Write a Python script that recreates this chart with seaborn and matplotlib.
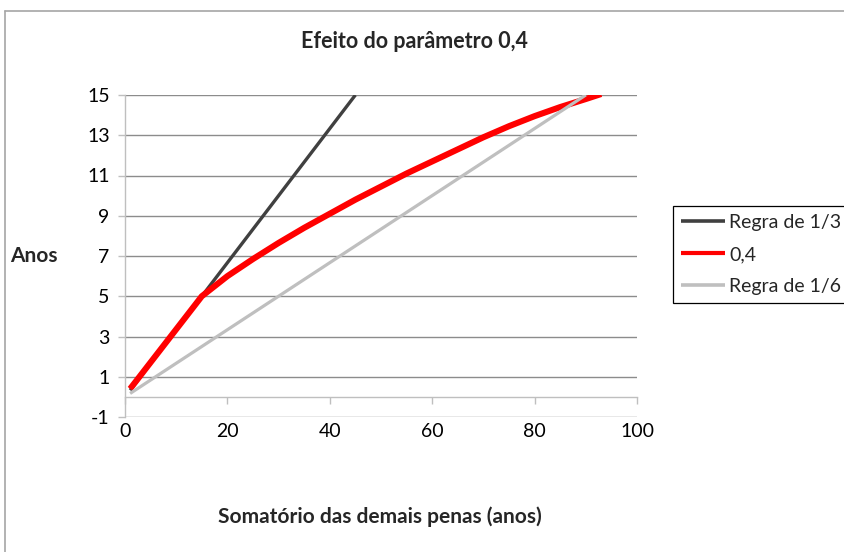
import matplotlib
matplotlib.use("Agg")
import matplotlib.pyplot as plt
import seaborn as sns
import pandas as pd
from matplotlib.lines import Line2D

# Series: years of the penalty versus the sum of the other penalties
x_terco = [1, 15, 30, 45]
y_terco = [0.33, 5.0, 10.0, 15.0]

x_param = [1, 15, 20, 25, 30, 35, 40, 45, 50, 55, 60, 65, 70, 75, 80, 85, 90, 93]
y_param = [0.4, 5.0, 6.0, 6.85, 7.65, 8.4, 9.1, 9.8, 10.45, 11.1, 11.7,
           12.3, 12.9, 13.45, 13.95, 14.4, 14.8, 15.05]

x_sexto = [1, 90]
y_sexto = [0.17, 15.0]

series_names = ["Regra de 1/3", "0,4", "Regra de 1/6"]
series_colors = ["#404040", "#FF0000", "#BFBFBF"]
series_widths = [2.4, 4.4, 2.3]

x_ticks = [0, 20, 40, 60, 80, 100]
y_ticks = [-1, 1, 3, 5, 7, 9, 11, 13, 15]

title = "Efeito do parâmetro 0,4"
x_label = "Somatório das demais penas (anos)"
y_label = "Anos"

sns.set_theme(style="white")
plt.rcParams["font.family"] = ["Lato", "DejaVu Sans"]

W, H = 845, 552
fig = plt.figure(figsize=(W / 100, H / 100), dpi=100)
fig.patch.set_facecolor("white")

# Chart area border (top and left edges)
border_kw = dict(transform=fig.transFigure, color="#A6A6A6", lw=1.2)
fig.add_artist(Line2D([5 / W, 5 / W], [0, 1 - 11 / H], **border_kw))
fig.add_artist(Line2D([5 / W, 1], [1 - 11 / H, 1 - 11 / H], **border_kw))

ax = fig.add_axes([125 / W, 1 - 417 / H, 512 / W, 322 / H])
ax.set_facecolor("white")

frames = []
for name, xs, ys in zip(series_names, [x_terco, x_param, x_sexto],
                        [y_terco, y_param, y_sexto]):
    frames.append(pd.DataFrame({"x": xs, "y": ys, "serie": name}))
df = pd.concat(frames, ignore_index=True)

for name, color, lw in zip(series_names, series_colors, series_widths):
    sub = df[df["serie"] == name]
    sns.lineplot(data=sub, x="x", y="y", ax=ax, color=color, linewidth=lw,
                 label=name, sort=False, estimator=None, legend=False,
                 solid_capstyle="butt", solid_joinstyle="round", zorder=3)

ax.set_xlim(0, 100)
ax.set_ylim(-1, 15)
ax.set_xticks(x_ticks)
ax.set_yticks(y_ticks)
ax.set_xticklabels([str(v) for v in x_ticks])
ax.set_yticklabels([str(v) for v in y_ticks])
ax.set_xlabel("")
ax.set_ylabel("")

ax.yaxis.grid(True, color="#8C8C8C", lw=1.0, zorder=0)
ax.xaxis.grid(False)
ax.set_axisbelow(True)

for s in ["top", "right", "bottom"]:
    ax.spines[s].set_visible(False)
ax.spines["left"].set_color("#BFBFBF")
ax.spines["left"].set_linewidth(1.0)

ax.tick_params(axis="y", direction="out", length=5, width=1, color="#BFBFBF",
               pad=6, labelsize=14, labelcolor="black", left=True)
ax.tick_params(axis="x", length=0, pad=4, labelsize=14, labelcolor="black")

# Horizontal axis crossing at y = 0
sec = ax.secondary_xaxis((0 - (-1)) / 16)
sec.set_xticks(x_ticks)
sec.tick_params(axis="x", direction="out", length=5, width=1, color="#BFBFBF",
                labelbottom=False)
sec.spines["bottom"].set_color("#BFBFBF")
sec.spines["bottom"].set_linewidth(1.0)

leg = ax.legend(loc="upper left", bbox_to_anchor=(1.07, 0.655),
                borderaxespad=0, frameon=True, fancybox=False,
                edgecolor="black", framealpha=1, fontsize=14,
                handlelength=2.3, handletextpad=0.2, labelspacing=0.78,
                borderpad=0.4)
leg.get_frame().set_linewidth(0.9)
for h, lw in zip(leg.get_lines(), [2.6, 3.0, 2.6]):
    h.set_linewidth(lw)

fig.text(414 / W, 1 - 42 / H, title, ha="center", va="center",
         fontsize=15.5, fontweight="bold")
fig.text(380 / W, 1 - 517 / H, x_label, ha="center", va="center",
         fontsize=15, fontweight="bold")
fig.text(10 / W, 1 - 256 / H, y_label, ha="left", va="center",
         fontsize=15, fontweight="bold")

fig.savefig("out.png", dpi=100, facecolor="white")
